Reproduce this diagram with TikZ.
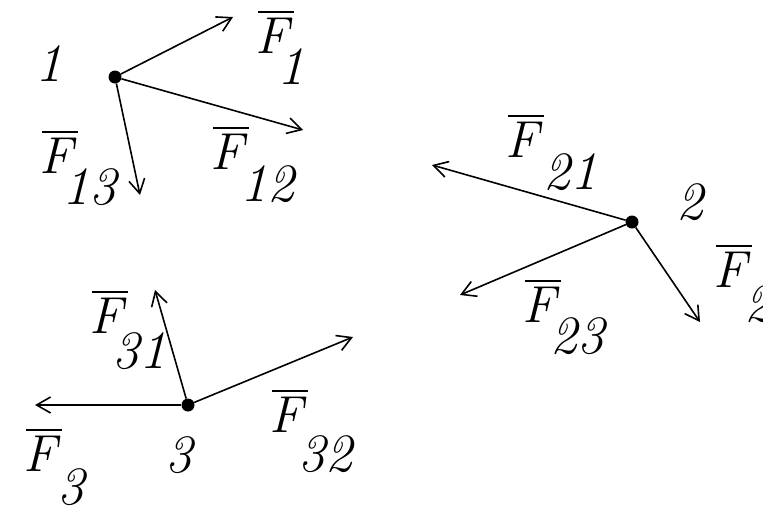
\documentclass[tikz,border=0pt]{standalone}
\usetikzlibrary{arrows.meta}
\begin{document}
\begin{tikzpicture}[x=1pt,y=-1pt,
  force/.style={line width=1.6pt,-{Straight Barb[length=14pt,width=16pt,line width=1.6pt]}},
  pt/.style={circle,fill=black,inner sep=0pt,minimum size=13pt},
  lbl/.style={inner sep=0pt,font=\fontsize{52}{60}\selectfont\itshape},
  num/.style={inner sep=0pt,font=\fontsize{54}{62}\selectfont\itshape},
  bar/.style={line width=2.4pt}]
\useasboundingbox (0,0) rectangle (763,512);
% points
\node[pt] (p1) at (115,77) {};
\node[pt] (p2) at (632,222) {};
\node[pt] (p3) at (188,405) {};
% arrow ends
\coordinate (e1) at (233,17);
\coordinate (e12) at (303,130);
\coordinate (e13) at (140,195);
\coordinate (e21) at (432,165);
\coordinate (e23) at (460,295);
\coordinate (e2) at (700,322);
\coordinate (e31) at (155,290);
\coordinate (e32) at (353,337);
\coordinate (e3) at (35,405);
\draw[force] (p1) -- (e1);
\draw[force] (p1) -- (e12);
\draw[force] (p1) -- (e13);
\draw[force] (p2) -- (e21);
\draw[force] (p2) -- (e23);
\draw[force] (p2) -- (e2);
\draw[force] (p3) -- (e31);
\draw[force] (p3) -- (e32);
\draw[force] (p3) -- (e3);
% point numbers
\node[num] (n1) at (49,64) {1};
\node[num] (n2) at (690,202) {2};
\node[num] (n3) at (179,455) {3};
% force labels
\foreach \n/\fx/\fy/\sx/\sy/\s in {1/272/36/291/67/1, 12/227/152/267/184/12, 13/56/156/89/187/13,
  21/522/140/570/172/21, 2/730/270/758/304/2, 23/539/305/577/336/23,
  31/106/316/139/351/31, 32/286/415/325/454/32, 3/40/454/71/487/3}{
  \node[lbl] (f\n) at (\fx,\fy) {F};
  \draw[bar] ([shift={(3,-6)}]f\n.north west) -- ([shift={(5,-6)}]f\n.north east);
  \node[num] (s\n) at (\sx,\sy) {\s};
}
\end{tikzpicture}
\end{document}
